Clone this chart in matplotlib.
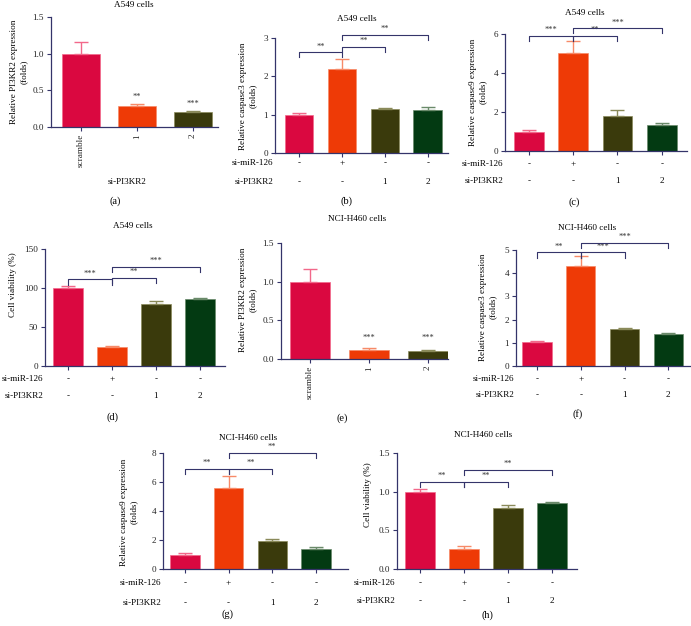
import numpy as np
import matplotlib
matplotlib.use("Agg")
import matplotlib.pyplot as plt
from matplotlib.transforms import blended_transform_factory

plt.rcParams['font.family'] = ['Liberation Serif', 'DejaVu Serif']

# ---- data ----
a_labels = ["scramble", "1", "2"]
a_vals = [1.0, 0.28, 0.20]
a_errs = [0.16, 0.03, 0.015]
a_stars = ["", "**", "***"]

b_vals = [1.0, 2.2, 1.15, 1.13]
b_errs = [0.05, 0.25, 0.03, 0.06]
b_brackets = [(0, 1, 2.63, "**"), (1, 2, 2.77, "**"), (1, 3, 3.08, "**")]

c_vals = [1.0, 5.05, 1.8, 1.35]
c_errs = [0.1, 0.6, 0.3, 0.1]
c_brackets = [(0, 1, 5.9, "***"), (1, 2, 5.9, "**"), (1, 3, 6.3, "***")]

d_vals = [100, 24, 80, 86]
d_errs = [2, 2, 3.5, 1.5]
d_brackets = [(0, 1, 111, "***"), (1, 2, 113, "**"), (1, 3, 127, "***")]

e_labels = ["scramble", "1", "2"]
e_vals = [1.0, 0.12, 0.10]
e_errs = [0.16, 0.02, 0.015]
e_stars = ["", "***", "***"]

f_vals = [1.02, 4.3, 1.6, 1.4]
f_errs = [0.05, 0.45, 0.05, 0.03]
f_brackets = [(0, 1, 4.9, "**"), (1, 2, 4.9, "***"), (1, 3, 5.3, "***")]

g_vals = [1.0, 5.6, 1.9, 1.4]
g_errs = [0.1, 0.8, 0.2, 0.12]
g_brackets = [(0, 1, 6.9, "**"), (1, 2, 6.9, "**"), (1, 3, 8.0, "**")]

h_vals = [1.0, 0.26, 0.79, 0.85]
h_errs = [0.03, 0.04, 0.04, 0.01]
h_brackets = [(0, 1, 1.13, "**"), (1, 2, 1.13, "**"), (1, 3, 1.28, "**")]

mir_row = ["-", "+", "-", "-"]
si_row = ["-", "-", "1", "2"]

bar_colors = ["#DA0840", "#EE3A06", "#3A3A0C", "#033A12"]
err_colors = ["#F2688A", "#F78A68", "#8A8A5A", "#6A8A6A"]
axis_color = "#34346A"

W, H = 691, 626
fig = plt.figure(figsize=(W / 100, H / 100), dpi=100)
FS = 6.6


def px_axes(left, top, right, bottom):
    return fig.add_axes([left / W, 1 - bottom / H, (right - left) / W, (bottom - top) / H])


def ftext(x, y, s, **kw):
    kw.setdefault("fontsize", FS)
    fig.text(x / W, 1 - y / H, s, ha=kw.pop("ha", "center"), va=kw.pop("va", "center"), **kw)


def base(box, xlim, vals, errs, ymax, yticks, ytick_fmt):
    ax = px_axes(*box)
    x = np.arange(len(vals))
    for i in x:
        ax.bar(i, vals[i], width=0.67, color=bar_colors[i], edgecolor=err_colors[i], linewidth=0.5, zorder=2)
        ax.errorbar(i, vals[i], yerr=[[0], [errs[i]]], fmt="none", ecolor=err_colors[i],
                    elinewidth=1.0, capsize=5, capthick=1.0, zorder=3)
    ax.set_xlim(*xlim)
    ax.set_ylim(0, ymax)
    ax.set_yticks(yticks)
    ax.set_yticklabels([ytick_fmt.format(t) for t in yticks], fontsize=FS)
    ax.set_xticks(x)
    for s in ["top", "right"]:
        ax.spines[s].set_visible(False)
    for s in ["left", "bottom"]:
        ax.spines[s].set_color(axis_color)
        ax.spines[s].set_linewidth(0.9)
    ax.tick_params(axis="both", colors=axis_color, length=3, width=0.8, labelcolor="#222222", pad=2)
    return ax


def brackets(ax, items, ymax):
    tick = 0.045 * ymax
    for i, j, y, s in items:
        ax.plot([i, i, j, j], [y - tick, y, y, y - tick], color=axis_color, lw=0.8,
                clip_on=False, zorder=4)
        ax.text((i + j) / 2, y + 0.015 * ymax, s, ha="center", va="bottom", fontsize=FS - 0.6,
                color="#333333")


def rows(ax, ymir, ysi, left_px):
    tr = blended_transform_factory(ax.transData, fig.transFigure)
    for i in range(4):
        ax.text(i, 1 - ymir / H, mir_row[i], transform=tr, ha="center", va="center", fontsize=FS)
        ax.text(i, 1 - ysi / H, si_row[i], transform=tr, ha="center", va="center", fontsize=FS)
    ftext(left_px - 2, ymir, "si-miR-126", ha="right")
    ftext(left_px - 2, ysi, "si-PI3KR2", ha="right")


# (a)
ax = base((51, 17, 218, 127), (-0.54, 2.45), a_vals, a_errs, 1.5, [0, 0.5, 1.0, 1.5], "{:.1f}")
ax.set_xticklabels(a_labels, rotation=90, fontsize=FS)
for i, s in enumerate(a_stars):
    if s:
        ax.text(i, a_vals[i] + a_errs[i] + 0.05, s, ha="center", va="bottom", fontsize=FS - 0.6, color="#333333")
ftext(134, 5, "A549 cells")
ftext(19, 72, "Relative PI3KR2 expression\n(folds)", rotation=90, linespacing=1.3)
ftext(127, 182, "si-PI3KR2")
ftext(115, 201, "(a)", fontsize=7.5)

# (b)
ax = base((275, 38, 448, 153), (-0.56, 3.47), b_vals, b_errs, 3, [0, 1, 2, 3], "{:d}")
ax.set_xticklabels([])
brackets(ax, b_brackets, 3)
rows(ax, 163, 182, 275)
ftext(357, 19, "A549 cells")
ftext(248, 96, "Relative caspase3 expression\n(folds)", rotation=90, linespacing=1.3)
ftext(347, 201, "(b)", fontsize=7.5)

# (c)
ax = base((505, 34, 687, 151), (-0.54, 3.57), c_vals, c_errs, 6, [0, 2, 4, 6], "{:d}")
ax.set_xticklabels([])
brackets(ax, c_brackets, 6)
rows(ax, 164, 181, 505)
ftext(585, 13, "A549 cells")
ftext(478, 92, "Relative caspase9 expression\n(folds)", rotation=90, linespacing=1.3)
ftext(574, 202, "(c)", fontsize=7.5)

# (d)
ax = base((45, 249, 225, 366), (-0.52, 3.57), d_vals, d_errs, 150, [0, 50, 100, 150], "{:d}")
ax.set_xticklabels([])
brackets(ax, d_brackets, 150)
rows(ax, 379, 396, 45)
ftext(133, 226, "A549 cells")
ftext(13, 285, "Cell viability (%)", rotation=90)
ftext(113, 417, "(d)", fontsize=7.5)

# (e)
ax = base((281, 243, 448, 359), (-0.49, 2.34), e_vals, e_errs, 1.5, [0, 0.5, 1.0, 1.5], "{:.1f}")
ax.set_xticklabels(e_labels, rotation=90, fontsize=FS)
for i, s in enumerate(e_stars):
    if s:
        ax.text(i, 0.22, s, ha="center", va="bottom", fontsize=FS - 0.6, color="#333333")
ftext(357, 219, "NCI-H460 cells")
ftext(248, 300, "Relative PI3KR2 expression\n(folds)", rotation=90, linespacing=1.3)
ftext(342, 418, "(e)", fontsize=7.5)

# (f)
ax = base((516, 250, 691, 366), (-0.48, 3.52), f_vals, f_errs, 5, [0, 1, 2, 3, 4, 5], "{:d}")
ax.set_xticklabels([])
brackets(ax, f_brackets, 5)
rows(ax, 379, 395, 516)
ftext(587, 228, "NCI-H460 cells")
ftext(488, 307, "Relative caspase3 expression\n(folds)", rotation=90, linespacing=1.3)
ftext(578, 414, "(f)", fontsize=7.5)

# (g)
ax = base((163, 453, 348, 569), (-0.5, 3.73), g_vals, g_errs, 8, [0, 2, 4, 6, 8], "{:d}")
ax.set_xticklabels([])
brackets(ax, g_brackets, 8)
rows(ax, 583, 603, 163)
ftext(248, 438, "NCI-H460 cells")
ftext(129, 512, "Relative caspase9 expression\n(folds)", rotation=90, linespacing=1.3)
ftext(227, 614, "(g)", fontsize=7.5)

# (h)
ax = base((397, 453, 577, 569), (-0.52, 3.57), h_vals, h_errs, 1.5, [0, 0.5, 1.0, 1.5], "{:.1f}")
ax.set_xticklabels([])
brackets(ax, h_brackets, 1.5)
rows(ax, 583, 601, 397)
ftext(483, 435, "NCI-H460 cells")
ftext(368, 495, "Cell viability (%)", rotation=90)
ftext(487, 615, "(h)", fontsize=7.5)

fig.savefig("out.png", dpi=100)
